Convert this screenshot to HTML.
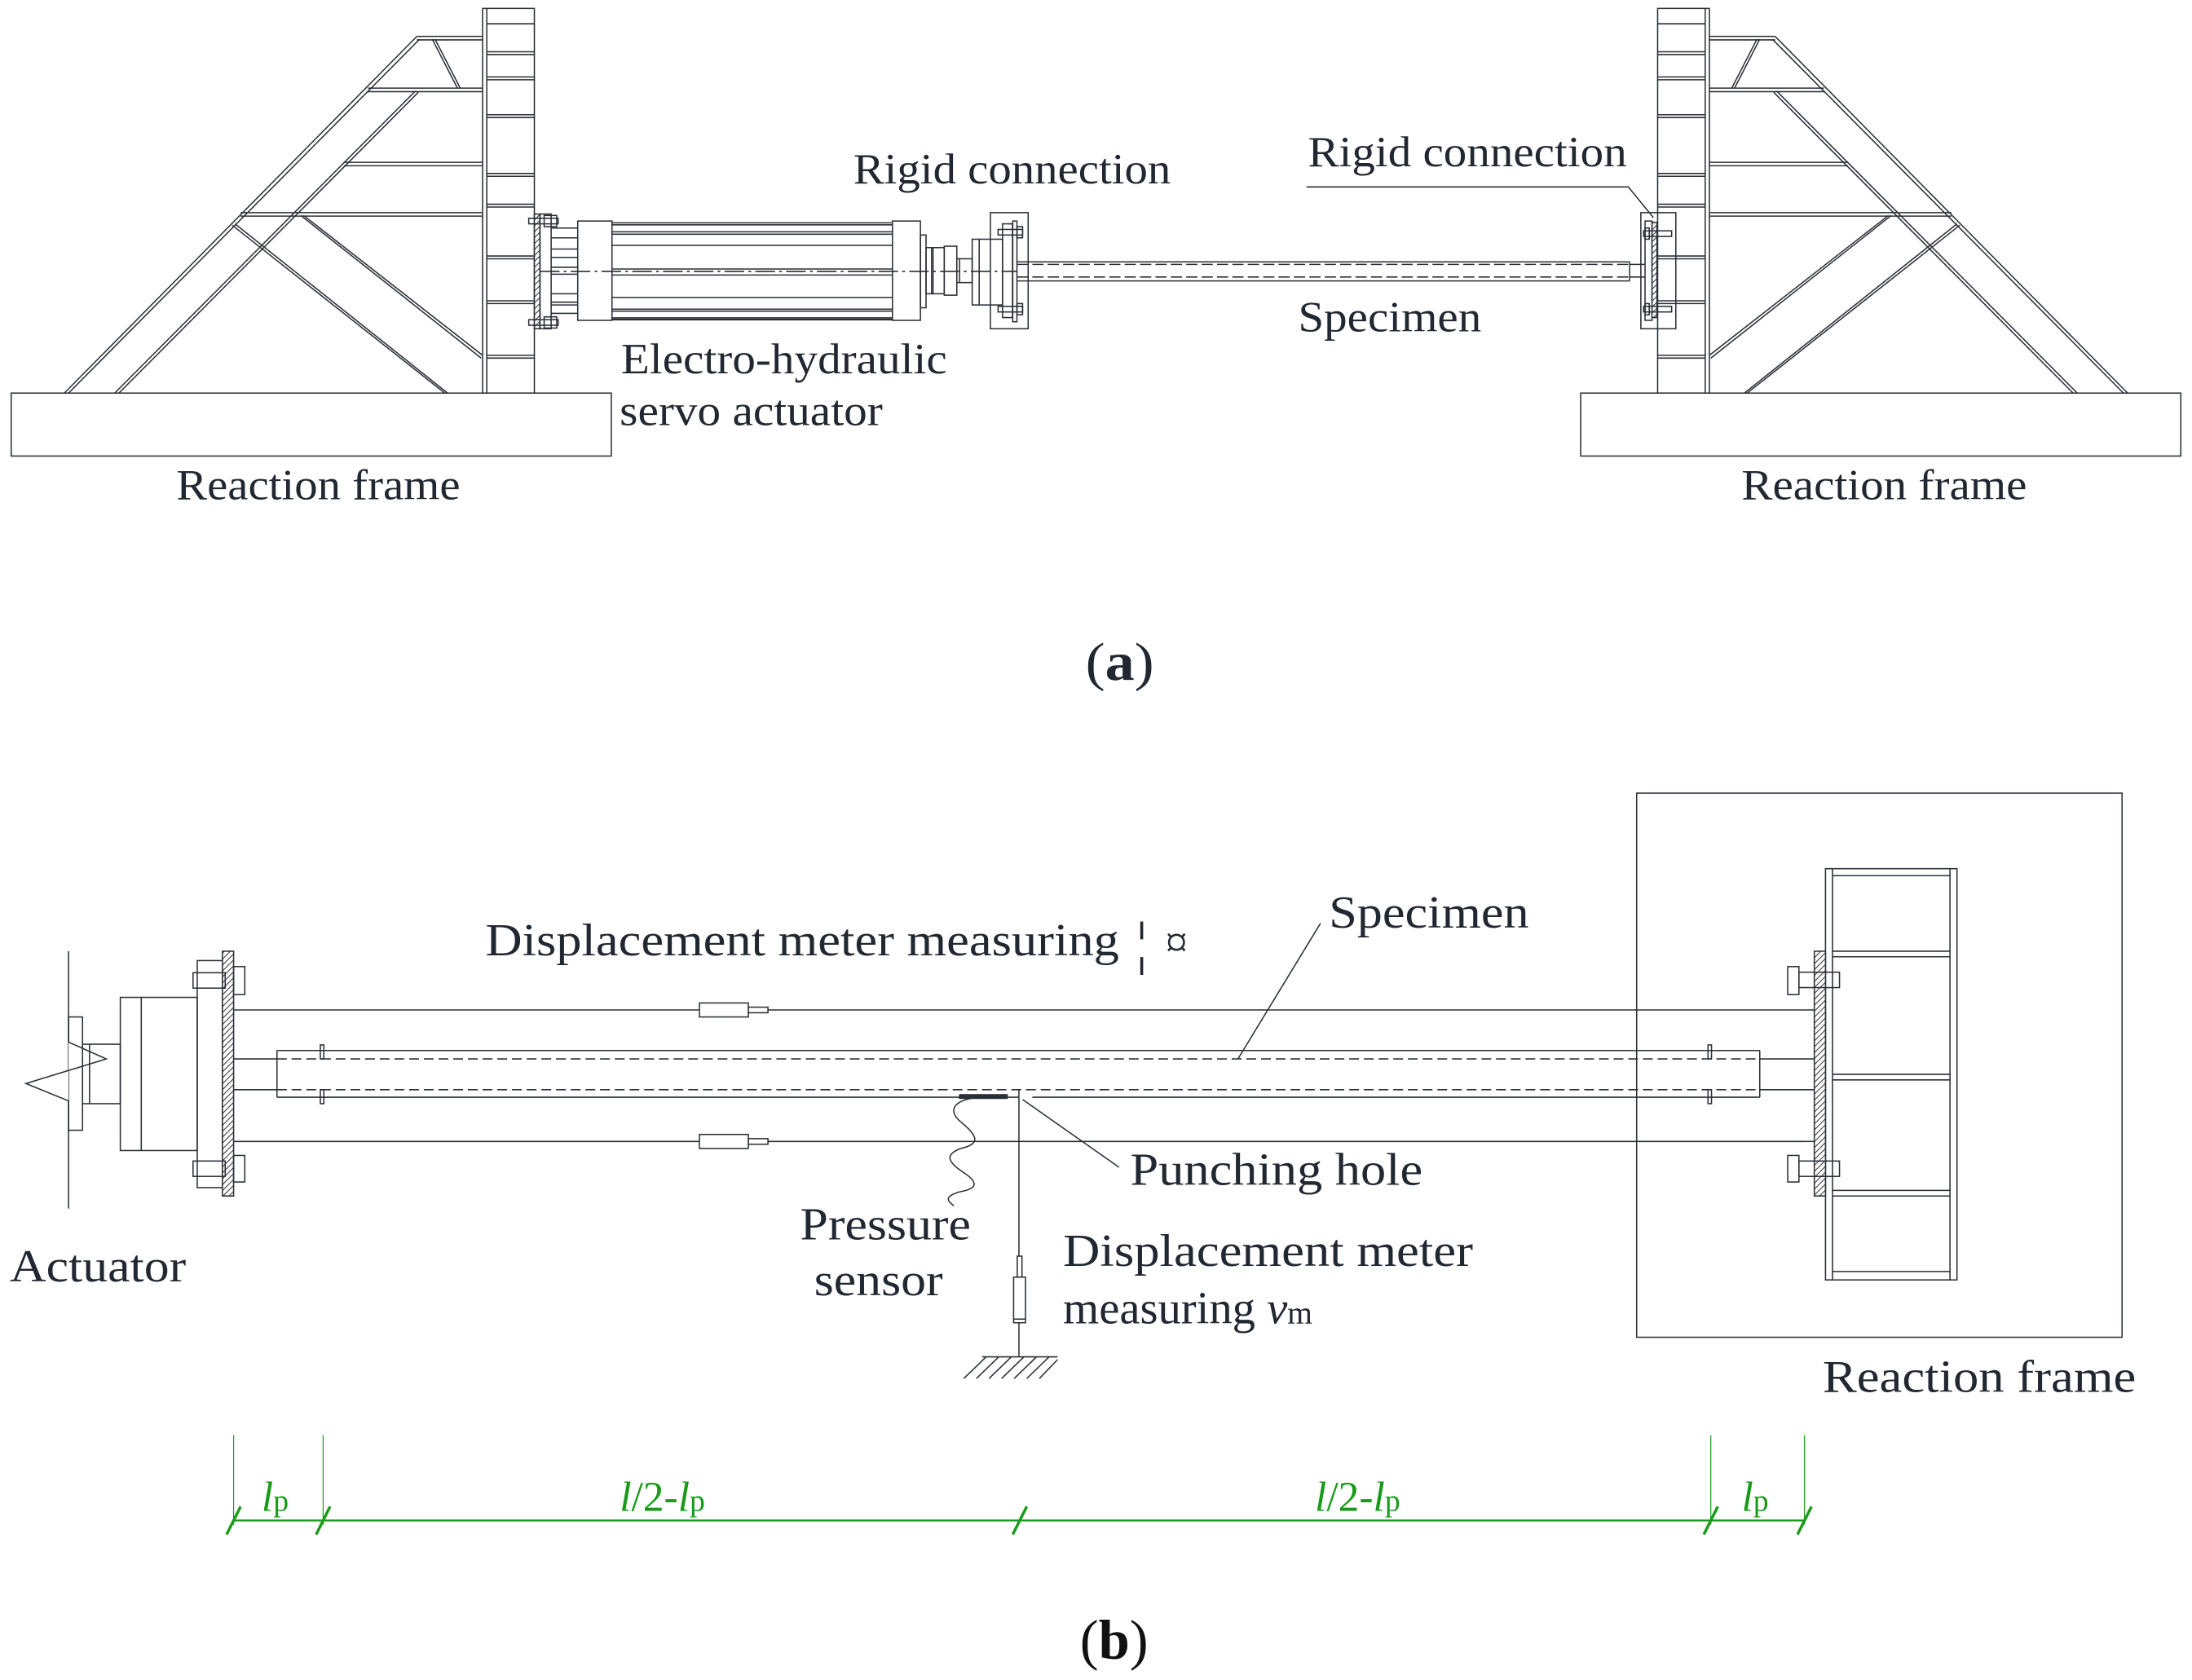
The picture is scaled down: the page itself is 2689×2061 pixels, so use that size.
<!DOCTYPE html>
<html><head><meta charset="utf-8"><style>
html,body{margin:0;padding:0;background:#fff;}
svg{display:block;}
text{font-family:"Liberation Serif",serif;fill:#222831;}
</style></head><body>
<svg width="2689" height="2061" viewBox="0 0 1567 1201" xmlns="http://www.w3.org/2000/svg">
<defs>
<pattern id="h" width="3" height="3" patternUnits="userSpaceOnUse" patternTransform="rotate(45)">
<rect width="3" height="3" fill="#fff"/><line x1="0" y1="0" x2="0" y2="3" stroke="#333" stroke-width="1.2"/></pattern>
<g id="frame" fill="none" stroke="#2a2f36" stroke-width="0.9">
<rect x="8" y="281" width="429" height="45"/>
<rect x="345" y="6" width="37" height="275"/>
<line x1="348" y1="6" x2="348" y2="281"/>
<g>
<line x1="348" y1="17" x2="382" y2="17"/>
<line x1="348" y1="37" x2="382" y2="37"/><line x1="348" y1="39" x2="382" y2="39"/>
<line x1="348" y1="55" x2="382" y2="55"/><line x1="348" y1="57" x2="382" y2="57"/>
<line x1="348" y1="82" x2="382" y2="82"/><line x1="348" y1="84" x2="382" y2="84"/>
<line x1="348" y1="124" x2="382" y2="124"/><line x1="348" y1="126" x2="382" y2="126"/>
<line x1="348" y1="146" x2="382" y2="146"/><line x1="348" y1="148" x2="382" y2="148"/>
<line x1="348" y1="183" x2="382" y2="183"/><line x1="348" y1="185" x2="382" y2="185"/>
<line x1="348" y1="215" x2="382" y2="215"/><line x1="348" y1="217" x2="382" y2="217"/>
<line x1="348" y1="254" x2="382" y2="254"/><line x1="348" y1="256" x2="382" y2="256"/>
</g>
<line x1="298" y1="26" x2="345" y2="26"/><line x1="298" y1="28.5" x2="345" y2="28.5"/>
<line x1="263" y1="63" x2="345" y2="63"/><line x1="263" y1="65.5" x2="345" y2="65.5"/>
<line x1="246" y1="116" x2="345" y2="116"/><line x1="246" y1="118.5" x2="345" y2="118.5"/>
<line x1="172" y1="152" x2="345" y2="152"/><line x1="172" y1="154.5" x2="345" y2="154.5"/>
<line x1="298" y1="26" x2="46" y2="281"/><line x1="300" y1="28" x2="49" y2="281"/>
<line x1="297" y1="65" x2="82" y2="281"/><line x1="299" y1="66" x2="85" y2="281"/>
<line x1="309" y1="28" x2="327" y2="63"/><line x1="311" y1="28" x2="329" y2="63"/>
<line x1="166" y1="161" x2="318" y2="281"/><line x1="168" y1="160" x2="320" y2="281"/>
<line x1="215" y1="154" x2="344" y2="256"/><line x1="217" y1="154" x2="345" y2="254"/>
</g>
</defs>
<rect width="1567" height="1201" fill="#fff"/>
<use href="#frame"/>
<use href="#frame" transform="translate(1567,0) scale(-1,1)"/>

<g fill="none" stroke="#2a2f36" stroke-width="0.9">
<rect x="382" y="153" width="4" height="82" fill="url(#h)"/>
<rect x="386" y="153" width="8" height="82"/>
<rect x="378" y="156" width="21" height="4"/><rect x="389" y="154" width="9" height="8"/>
<rect x="378" y="228.5" width="21" height="4"/><rect x="389" y="226.5" width="9" height="8"/>
<line x1="394" y1="163" x2="413" y2="163"/><line x1="394" y1="170" x2="413" y2="170"/>
<line x1="394" y1="178" x2="413" y2="178"/><line x1="394" y1="184" x2="413" y2="184"/>
<line x1="394" y1="191" x2="413" y2="191"/><line x1="394" y1="196" x2="413" y2="196"/>
<line x1="394" y1="210" x2="413" y2="210"/><line x1="394" y1="216" x2="413" y2="216"/>
<line x1="394" y1="218" x2="413" y2="218"/><line x1="394" y1="224" x2="413" y2="224"/>
<rect x="413" y="158" width="24.5" height="71"/>
<line x1="437" y1="159.3" x2="638" y2="159.3"/><line x1="437" y1="160.7" x2="638" y2="160.7"/>
<line x1="437" y1="165.7" x2="638" y2="165.7"/><line x1="437" y1="167.4" x2="638" y2="167.4"/>
<line x1="437" y1="175.4" x2="638" y2="175.4"/><line x1="437" y1="192.3" x2="638" y2="192.3"/>
<line x1="437" y1="196.6" x2="638" y2="196.6"/><line x1="437" y1="212.7" x2="638" y2="212.7"/>
<line x1="437" y1="221" x2="638" y2="221"/><line x1="437" y1="222.4" x2="638" y2="222.4"/>
<line x1="437" y1="227.2" x2="638" y2="227.2"/><line x1="437" y1="228.4" x2="638" y2="228.4" stroke-width="1.4"/>
<rect x="638" y="158" width="20" height="71"/>
<rect x="658" y="168" width="4" height="52"/>
<rect x="662" y="177" width="13" height="33"/><line x1="666" y1="177" x2="666" y2="210"/><line x1="667" y1="177" x2="667" y2="210"/>
<rect x="675" y="176" width="9" height="35"/>
<rect x="684" y="185" width="11" height="17"/><line x1="686" y1="185" x2="686" y2="202"/>
<rect x="695" y="171" width="21.7" height="47"/><line x1="700" y1="171" x2="700" y2="218"/>
<rect x="708" y="152" width="27" height="83"/>
<rect x="716.7" y="160" width="7.1" height="67"/>
<rect x="724" y="158" width="3" height="72"/>
<rect x="713.5" y="164" width="17.5" height="4"/><rect x="727" y="162" width="4" height="8"/>
<rect x="713.5" y="219" width="17.5" height="4"/><rect x="727" y="217" width="4" height="8"/>
<line x1="386" y1="194" x2="727" y2="194" stroke-dasharray="14,3,2,3"/>
<line x1="727" y1="187.2" x2="1165" y2="187.2"/><line x1="727" y1="200.8" x2="1165" y2="200.8"/>
<line x1="727" y1="189" x2="1165" y2="189" stroke-dasharray="8,3"/><line x1="727" y1="198" x2="1165" y2="198" stroke-dasharray="8,3"/>
<line x1="1165" y1="187.2" x2="1165" y2="200.8"/>
<line x1="1165" y1="189" x2="1176" y2="189"/><line x1="1165" y1="198" x2="1176" y2="198"/>
<rect x="1173" y="152" width="25" height="83"/>
<rect x="1176" y="158" width="5" height="71"/>
<rect x="1181" y="159" width="3.5" height="68" fill="url(#h)"/>
<rect x="1175" y="165" width="20" height="4"/><rect x="1176" y="163" width="3" height="8"/>
<rect x="1175" y="219" width="20" height="4"/><rect x="1176" y="217" width="3" height="8"/>
<polyline points="934,133.6 1164,133.6 1182,155.6"/>
</g>
<g font-size="31">
<text x="610" y="131" textLength="227" lengthAdjust="spacingAndGlyphs">Rigid connection</text>
<text x="935" y="119" textLength="228" lengthAdjust="spacingAndGlyphs">Rigid connection</text>
<text x="928" y="237" textLength="131" lengthAdjust="spacingAndGlyphs">Specimen</text>
<text x="444" y="267" textLength="233" lengthAdjust="spacingAndGlyphs">Electro-hydraulic</text>
<text x="443" y="304" textLength="188" lengthAdjust="spacingAndGlyphs">servo actuator</text>
<text x="126" y="357" textLength="203" lengthAdjust="spacingAndGlyphs">Reaction frame</text>
<text x="1245" y="357" textLength="204" lengthAdjust="spacingAndGlyphs">Reaction frame</text>
</g>
<text x="776" y="486" font-size="38" textLength="49" lengthAdjust="spacingAndGlyphs">(<tspan font-weight="bold">a</tspan>)</text>

<g fill="none" stroke="#2a2f36" stroke-width="0.9">
<line x1="49" y1="680" x2="49" y2="745"/><line x1="49" y1="787" x2="49" y2="864"/>
<rect x="49" y="727" width="10" height="81"/>
<polyline points="49,745 76,757 18.5,774.6 49,787" fill="#fff"/>
<rect x="59" y="746.5" width="27" height="42.5"/><line x1="64" y1="746.5" x2="64" y2="789"/>
<rect x="86" y="713" width="55" height="109.5"/><line x1="101" y1="713" x2="101" y2="822.5"/>
<rect x="141" y="686.7" width="18" height="162.3"/>
<rect x="159" y="680" width="8" height="175" fill="url(#h)"/>
<rect x="138" y="695.4" width="23" height="11"/><rect x="167" y="691" width="8" height="20"/>
<rect x="138" y="830" width="23" height="11"/><rect x="167" y="826" width="8" height="19"/>
<line x1="167" y1="722" x2="1290" y2="722"/><line x1="167" y1="816" x2="1290" y2="816"/>
<rect x="500" y="717" width="35" height="10" fill="#fff"/><rect x="535" y="720" width="14" height="4" fill="#fff"/>
<rect x="500" y="811" width="35" height="10" fill="#fff"/><rect x="535" y="814" width="14" height="4" fill="#fff"/>
<line x1="198" y1="751" x2="1258" y2="751"/>
<line x1="198" y1="784.4" x2="728" y2="784.4"/><line x1="738" y1="784.4" x2="1258" y2="784.4"/>
<line x1="198" y1="751" x2="198" y2="784.4"/><line x1="1258" y1="751" x2="1258" y2="784.4"/>
<line x1="198" y1="757" x2="1258" y2="757" stroke-dasharray="7,3.5"/>
<line x1="198" y1="779" x2="1258" y2="779" stroke-dasharray="7,3.5"/>
<line x1="167" y1="757" x2="198" y2="757"/><line x1="167" y1="779" x2="198" y2="779"/>
<line x1="1258" y1="757" x2="1297" y2="757"/><line x1="1258" y1="779" x2="1297" y2="779"/>
<rect x="229" y="747" width="2.5" height="10"/><rect x="229" y="779" width="2.5" height="10"/>
<rect x="1221" y="747" width="2.5" height="10"/><rect x="1221" y="779" width="2.5" height="10"/>
<rect x="686" y="782.6" width="34" height="2.6" fill="#2a2f36"/>
<path d="M695,785 C680,788 678,795 688,803 C700,813 700,818 687,821 C676,825 676,830 690,839 C700,846 698,850 686,852 C676,855 676,858 682,862"/>
<line x1="728.4" y1="779" x2="728.4" y2="898"/>
<rect x="727.2" y="898" width="3.4" height="15"/>
<rect x="724.6" y="913" width="8.5" height="32.6"/><line x1="724.6" y1="943" x2="733.1" y2="943"/>
<line x1="728.4" y1="945.6" x2="728.4" y2="970"/>
<line x1="702" y1="970" x2="756" y2="970"/>
<path d="M689,985.5 L705,970 M698,985.5 L714,970 M707,985.5 L723,970 M716,985.5 L732,970 M725,985.5 L741,970 M734,985.5 L750,970 M743,985.5 L756,972"/>
<line x1="731" y1="786" x2="800" y2="834.5"/>
<line x1="885" y1="757" x2="944" y2="660"/>
<rect x="1170" y="567" width="347" height="389"/>
<rect x="1305" y="621" width="94" height="294"/>
<line x1="1310" y1="621" x2="1310" y2="915"/><line x1="1394" y1="621" x2="1394" y2="915"/>
<line x1="1310" y1="626" x2="1394" y2="626"/>
<line x1="1310" y1="680" x2="1394" y2="680"/><line x1="1310" y1="684" x2="1394" y2="684"/>
<line x1="1310" y1="768" x2="1394" y2="768"/><line x1="1310" y1="772" x2="1394" y2="772"/>
<line x1="1310" y1="851" x2="1394" y2="851"/><line x1="1310" y1="855" x2="1394" y2="855"/>
<line x1="1310" y1="909" x2="1394" y2="909"/>
<rect x="1297" y="680" width="8" height="175" fill="url(#h)"/>
<line x1="1290" y1="722" x2="1297" y2="722"/><line x1="1290" y1="816" x2="1297" y2="816"/>
<rect x="1286" y="695" width="29" height="11"/><rect x="1278" y="691" width="8" height="20"/>
<rect x="1286" y="830" width="29" height="11"/><rect x="1278" y="826" width="8" height="19"/>
</g>
<g font-size="33">
<text x="347" y="683" textLength="453" lengthAdjust="spacingAndGlyphs">Displacement meter measuring</text>
<text x="812" y="688" font-size="42">¦</text>
<text x="833" y="684" font-size="32">¤</text>
<text x="950" y="663" textLength="143" lengthAdjust="spacingAndGlyphs">Specimen</text>
<text x="808" y="847" textLength="209" lengthAdjust="spacingAndGlyphs">Punching hole</text>
<text x="572" y="886" textLength="122" lengthAdjust="spacingAndGlyphs">Pressure</text>
<text x="582" y="926" textLength="92" lengthAdjust="spacingAndGlyphs">sensor</text>
<text x="760" y="905" textLength="293" lengthAdjust="spacingAndGlyphs">Displacement meter</text>
<text x="760" y="946">measuring <tspan font-style="italic">v</tspan><tspan font-size="23">m</tspan></text>
<text x="7" y="916" textLength="126" lengthAdjust="spacingAndGlyphs">Actuator</text>
<text x="1303" y="995" textLength="224" lengthAdjust="spacingAndGlyphs">Reaction frame</text>
</g>
<g stroke="#1a9a1a" fill="none">
<line x1="167" y1="1026" x2="167" y2="1090" stroke-width="0.7"/>
<line x1="231" y1="1026" x2="231" y2="1090" stroke-width="0.7"/>
<line x1="1223" y1="1026" x2="1223" y2="1090" stroke-width="0.7"/>
<line x1="1290" y1="1026" x2="1290" y2="1090" stroke-width="0.7"/>
<line x1="167" y1="1087" x2="1290" y2="1087" stroke-width="1.4"/>
<g stroke-width="2">
<line x1="162" y1="1097" x2="172" y2="1077"/><line x1="226" y1="1097" x2="236" y2="1077"/>
<line x1="724" y1="1097" x2="734" y2="1077"/><line x1="1218" y1="1097" x2="1228" y2="1077"/>
<line x1="1285" y1="1097" x2="1295" y2="1077"/>
</g>
</g>
<g font-size="30" style="fill:#1a9a1a">
<text x="187" y="1080" style="fill:#1a9a1a"><tspan font-style="italic">l</tspan><tspan font-size="22">p</tspan></text>
<text x="443" y="1080" style="fill:#1a9a1a"><tspan font-style="italic">l</tspan>/2-<tspan font-style="italic">l</tspan><tspan font-size="22">p</tspan></text>
<text x="940" y="1080" style="fill:#1a9a1a"><tspan font-style="italic">l</tspan>/2-<tspan font-style="italic">l</tspan><tspan font-size="22">p</tspan></text>
<text x="1245" y="1080" style="fill:#1a9a1a"><tspan font-style="italic">l</tspan><tspan font-size="22">p</tspan></text>
</g>
<text x="772" y="1186" font-size="40" style="fill:#111">(<tspan font-weight="bold">b</tspan>)</text>
</svg>
</body></html>
